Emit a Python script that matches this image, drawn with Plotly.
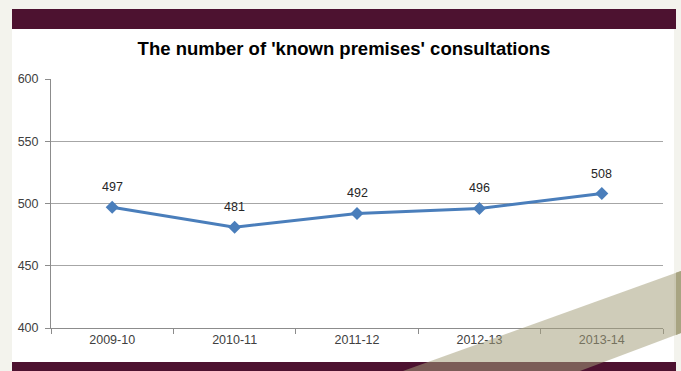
import plotly.graph_objects as go

# Consultations per financial year
years = ["2009-10", "2010-11", "2011-12", "2012-13", "2013-14"]
consultations = [497, 481, 492, 496, 508]
y_ticks = [400, 450, 500, 550, 600]

W, H = 681, 371
# plot area in pixels
PL, PR, PT, PB = 51, 663, 79, 328


def px(x):
    return (x - PL) / (PR - PL)


def py(y):
    return (PB - y) / (PB - PT)


MAROON = "rgb(77,18,48)"
BEIGE = "rgb(243,243,237)"
KHAKI = "rgb(164,158,122)"
FONT = "Liberation Sans, Arial, sans-serif"

fig = go.Figure()
fig.add_trace(go.Scatter(
    x=years,
    y=consultations,
    mode="lines+markers",
    line=dict(color="#4a7ebb", width=3),
    marker=dict(symbol="diamond", size=10, color="#4a7ebb"),
    cliponaxis=False,
    showlegend=False,
    hoverinfo="skip",
))

# value labels above each point
annotations = [
    dict(x=yr, y=v, xref="x", yref="y", text=str(v), showarrow=False,
         yshift=20, font=dict(family=FONT, size=12.5, color="#262626"))
    for yr, v in zip(years, consultations)
]


def rect(x0, y0, x1, y1, color, layer="below"):
    return dict(type="rect", xref="paper", yref="paper",
                x0=px(x0), x1=px(x1), y0=py(y1), y1=py(y0),
                fillcolor=color, line=dict(width=0), layer=layer)


def poly(points, color, opacity=1.0):
    d = "M " + " L ".join(f"{px(a):.5f},{py(b):.5f}" for a, b in points) + " Z"
    return dict(type="path", xref="paper", yref="paper", path=d,
                fillcolor=color, opacity=opacity, line=dict(width=0), layer="above")


shapes = [
    rect(12, 29, 674, 362, "white"),          # white panel
    rect(12, 9, 676, 29, MAROON),              # top band
    rect(12, 362, 676, 371, MAROON),           # bottom band
    poly([(403, 371), (681, 271), (681, 333), (580, 371)], KHAKI, 0.53),
    poly([(676, 272.8), (681, 271), (681, 333), (676, 334.9)], "rgb(168,164,130)"),
]

axis_font = dict(family=FONT, size=12.5, color="#404040")

fig.update_layout(
    width=W, height=H,
    margin=dict(l=PL, r=W - PR, t=PT, b=H - PB, pad=0),
    paper_bgcolor=BEIGE,
    plot_bgcolor="white",
    shapes=shapes,
    annotations=annotations,
    title=dict(
        text="<b>The number of 'known premises' consultations</b>",
        x=344 / W, xanchor="center", xref="container",
        y=1 - 49 / H, yanchor="middle", yref="container",
        font=dict(family=FONT, size=18.5, color="black"),
    ),
    xaxis=dict(
        type="category",
        range=[-0.5, 4.5],
        showline=True, linecolor="#8c8c8c", linewidth=1,
        ticks="outside", ticklen=5, tickcolor="#8c8c8c",
        tickson="boundaries",
        showgrid=False,
        tickfont=axis_font,
        fixedrange=True,
    ),
    yaxis=dict(
        range=[400, 600],
        tickvals=y_ticks,
        showline=True, linecolor="#8c8c8c", linewidth=1,
        ticks="outside", ticklen=5, tickcolor="#8c8c8c",
        showgrid=True, gridcolor="#a6a6a6", gridwidth=1,
        zeroline=False,
        tickfont=axis_font,
        ticklabelstandoff=4,
        fixedrange=True,
    ),
)

fig.write_html("out.html")
